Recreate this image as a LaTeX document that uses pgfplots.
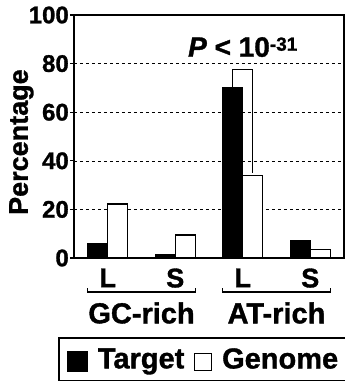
\documentclass[border=0pt]{standalone}
\usepackage{fontspec}
\setmainfont{Liberation Sans}[BoldFeatures={FakeBold=1.2}, BoldItalicFeatures={FakeBold=1.2}]
\usepackage{pgfplots}
\pgfplotsset{compat=1.18}
\begin{document}
\begin{tikzpicture}
\begin{axis}[
  at={(74pt,126pt)}, anchor=south west,
  scale only axis, width=270pt, height=243pt,
  xmin=-0.5, xmax=3.5, ymin=0, ymax=100,
  ytick={0,20,40,60,80,100},
  yticklabels={0,20,40,60,80,100},
  xtick={0,1,2,3}, xticklabels={L,S,L,S},
  x tick style={draw=none},
  y tick style={line width=1.2pt, black},
  tick align=outside, major tick length=4pt,
  ymajorgrids, grid style={dashed, black, line width=0.6pt},
  axis line style={line width=1.6pt},
  yticklabel style={font=\fontsize{24}{24}\selectfont\bfseries, inner sep=1pt},
  xticklabel style={font=\fontsize{27}{27}\selectfont\bfseries, yshift=-3pt},
  ylabel={Percentage},
  ylabel style={font=\fontsize{27}{27}\selectfont\bfseries, at={(axis description cs:-0.195,0.477)}, anchor=center},
  clip=false,
  legend columns=2,
  legend style={at={(axis description cs:-0.059,-0.325)}, anchor=north west,
    draw=black, line width=1.6pt, font=\fontsize{29}{29}\selectfont\bfseries,
    inner xsep=8pt, inner ysep=8.5pt,
    /tikz/every odd column/.append style={column sep=8pt},
    /tikz/every even column/.append style={column sep=8pt}},
]
\addplot[ybar, bar width=20pt, bar shift=-10pt, fill=black, draw=black, line width=1.2pt,
  legend image code/.code={\draw[fill=black, draw=black, line width=1pt] (0pt,-12pt) rectangle (20pt,8pt);}]
  coordinates {(0,6) (1,1.3) (2,70) (3,7)};
\addlegendentry{Target}
\addplot[ybar, bar width=20pt, bar shift=10pt, fill=white, draw=black, line width=1.2pt,
  legend image code/.code={\draw[fill=white, draw=black, line width=0.8pt] (0pt,-11pt) rectangle (17pt,6pt);}]
  coordinates {(0,22.2) (1,9.5) (2,34) (3,3.4)};
\addlegendentry{Genome}
\addplot[sharp plot, no markers, line width=1.4pt, black, forget plot]
  coordinates {(1.852,70) (1.852,77.5) (2.148,77.5) (2.148,35)};
\node[font=\fontsize{28}{28}\selectfont\bfseries] at (axis cs:2,86.8)
  {\textit{P} < 10\raisebox{6pt}{\fontsize{19}{19}\selectfont -31}};
\draw[line width=1.4pt] ([yshift=-30pt]axis cs:-0.296,0) -- ([yshift=-34pt]axis cs:-0.296,0)
  -- ([yshift=-34pt]axis cs:1.296,0) -- ([yshift=-30pt]axis cs:1.296,0);
\draw[line width=1.4pt] ([yshift=-30pt]axis cs:1.704,0) -- ([yshift=-34pt]axis cs:1.704,0)
  -- ([yshift=-34pt]axis cs:3.296,0) -- ([yshift=-30pt]axis cs:3.296,0);
\node[font=\fontsize{29}{29}\selectfont\bfseries] at ([yshift=-55pt]axis cs:0.5,0) {GC-rich};
\node[font=\fontsize{29}{29}\selectfont\bfseries] at ([yshift=-55pt]axis cs:2.5,0) {AT-rich};
\end{axis}
\pgfresetboundingbox
\path[use as bounding box] (0,0) rectangle (345pt,384pt);
\end{tikzpicture}
\end{document}
